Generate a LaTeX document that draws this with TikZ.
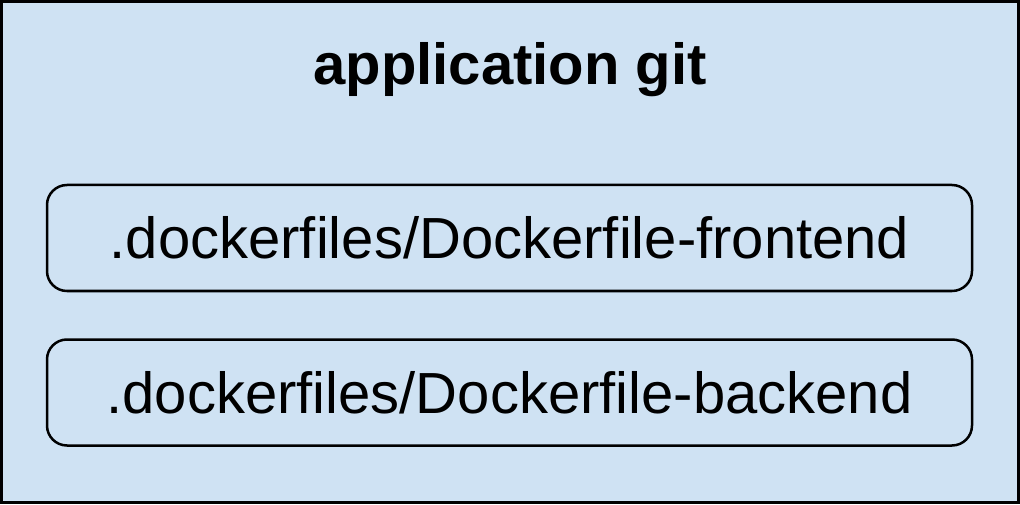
\documentclass[tikz,border=0pt]{standalone}
\usepackage{fontspec}
\setmainfont{Liberation Sans}
\usepackage{tikz}
\usetikzlibrary{positioning}
\definecolor{gitblue}{RGB}{207, 226, 243}

\begin{document}
\begin{tikzpicture}[
  x=1pt, y=1pt,
  outerbox/.style={
    rectangle, draw=black, line width=3pt, fill=gitblue,
    minimum width=1017pt, minimum height=501pt, inner sep=0pt
  },
  filebox/.style={
    rectangle, rounded corners=20pt, draw=black, line width=2.5pt,
    fill=gitblue, minimum width=925pt, minimum height=106pt,
    text centered, font=\fontsize{58}{68}\selectfont
  },
  title/.style={font=\fontsize{58}{68}\selectfont\bfseries}
]
  \useasboundingbox (0,0) rectangle (1020,504);
  % Repository
  \node[outerbox] (repo) at (510,252) {};
  \node[title] (gitname) at (510,434) {application git};

  % Dockerfiles
  \node[filebox] (frontend) at (509.5,266) {.dockerfiles/Dockerfile-frontend};
  \node[filebox, below=46pt of frontend] (backend) {.dockerfiles/Dockerfile-backend};
\end{tikzpicture}
\end{document}
